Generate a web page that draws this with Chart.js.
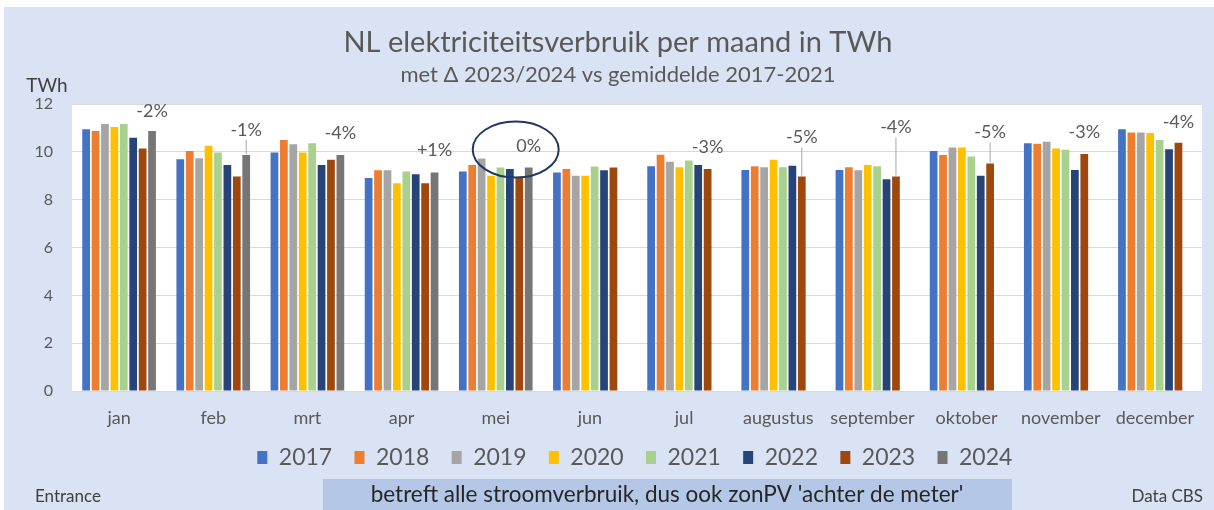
<!DOCTYPE html>
<html>
<head>
<meta charset="utf-8">
<script src="https://cdn.jsdelivr.net/npm/chart.js@4"></script>
<style>
  body { margin: 0; background: #fff; }
  #wrap { width: 1214px; height: 510px; }
</style>
</head>
<body>
<div id="wrap"><canvas id="chart" width="1214" height="510"></canvas></div>
<script>
// maanden en jaren
const months = ["jan", "feb", "mrt", "apr", "mei", "jun", "jul", "augustus", "september", "oktober", "november", "december"];
const years  = ["2017", "2018", "2019", "2020", "2021", "2022", "2023", "2024"];

const v2017 = [10.95, 9.70, 9.98, 8.91, 9.18, 9.14, 9.40, 9.25, 9.25, 10.04, 10.37, 10.95];
const v2018 = [10.88, 10.04, 10.50, 9.24, 9.46, 9.29, 9.88, 9.40, 9.36, 9.87, 10.34, 10.82];
const v2019 = [11.17, 9.74, 10.32, 9.24, 9.73, 9.01, 9.59, 9.36, 9.24, 10.19, 10.43, 10.82];
const v2020 = [11.05, 10.26, 9.98, 8.69, 9.01, 9.01, 9.36, 9.68, 9.46, 10.19, 10.15, 10.80];
const v2021 = [11.17, 9.98, 10.37, 9.18, 9.35, 9.39, 9.64, 9.36, 9.40, 9.81, 10.09, 10.50];
const v2022 = [10.60, 9.46, 9.46, 9.07, 9.29, 9.24, 9.46, 9.42, 8.86, 9.01, 9.25, 10.11];
const v2023 = [10.15, 8.97, 9.68, 8.69, 8.95, 9.35, 9.29, 8.97, 8.97, 9.52, 9.92, 10.39];
const v2024 = [10.88, 9.87, 9.87, 9.14, 9.35, null, null, null, null, null, null, null];

// delta 2023/2024 t.o.v. gemiddelde 2017-2021
const deltas = ["-2%", "-1%", "-4%", "+1%", "0%", "", "-3%", "-5%", "-4%", "-5%", "-3%", "-4%"];
const lifts  = [20, 25, 22, 22, 21, 0, 22, 39, 49, 31, 22, 20];

const colors = ["#4472c4", "#ed7d31", "#a5a5a5", "#ffc000", "#a9d18e", "#264478", "#9e480e", "#767676"];
const series = [v2017, v2018, v2019, v2020, v2021, v2022, v2023, v2024];

const FONT = "Lato, 'Liberation Sans', sans-serif";
Chart.defaults.font.family = FONT;
Chart.defaults.color = "#595959";

const decor = {
    id: "decor",
    afterLayout(chart) {
        // legenda iets naar rechts, zoals in het origineel
        chart.legend.left += 19;
        chart.legend.right += 19;
    },
    beforeDraw(chart) {
        const ctx = chart.ctx, a = chart.chartArea;
        ctx.save();
        ctx.fillStyle = "#ffffff";
        ctx.fillRect(0, 0, chart.width, chart.height);
        ctx.fillStyle = "#dae3f3";
        ctx.fillRect(4, 7, chart.width - 4, chart.height - 7);
        ctx.fillStyle = "#ffffff";
        ctx.fillRect(a.left, a.top, a.right - a.left, a.bottom - a.top);
        ctx.restore();
    },
    afterDatasetsDraw(chart) {
        const ctx = chart.ctx;
        ctx.save();
        ctx.font = "18px " + FONT;
        ctx.textAlign = "center";
        ctx.textBaseline = "middle";
        deltas.forEach((txt, i) => {
            if (!txt) return;
            let ds = v2024[i] != null ? 7 : 6;
            let bar = chart.getDatasetMeta(ds).data[i];
            let x = bar.x, y = bar.y - lifts[i];
            if (lifts[i] > 24) {
                ctx.strokeStyle = "#a6a6a6";
                ctx.lineWidth = 1;
                ctx.beginPath();
                ctx.moveTo(x, y + 10);
                ctx.lineTo(bar.x, bar.y - 1);
                ctx.stroke();
            }
            ctx.fillStyle = "#595959";
            ctx.fillText(txt, x, y);
            if (txt == "0%") {
                ctx.strokeStyle = "#203864";
                ctx.lineWidth = 2;
                ctx.beginPath();
                ctx.ellipse(x - 13, y + 3, 43, 28, 0, 0, Math.PI * 2);
                ctx.stroke();
            }
        });
        ctx.restore();
    },
    afterDraw(chart) {
        const ctx = chart.ctx;
        ctx.save();
        ctx.fillStyle = "#404040";
        ctx.font = "19px " + FONT;
        ctx.textAlign = "center";
        ctx.textBaseline = "middle";
        ctx.fillText("TWh", 47, 86);

        ctx.fillStyle = "#b4c7e7";
        ctx.fillRect(323, 479, 689, 31);
        ctx.fillStyle = "#262626";
        ctx.font = "22.5px " + FONT;
        ctx.fillText("betreft alle stroomverbruik, dus ook zonPV 'achter de meter'", 667, 495);

        ctx.fillStyle = "#404040";
        ctx.font = "17px " + FONT;
        ctx.textAlign = "left";
        ctx.fillText("Entrance", 35, 497);
        ctx.textAlign = "right";
        ctx.fillText("Data CBS", 1203, 497);
        ctx.restore();
    }
};

new Chart(document.getElementById("chart"), {
    type: "bar",
    data: {
        labels: months,
        datasets: years.map((y, k) => ({
            label: y,
            data: series[k],
            backgroundColor: colors[k],
            borderWidth: 0,
            categoryPercentage: 0.8,
            barPercentage: 0.82
        }))
    },
    options: {
        responsive: false,
        devicePixelRatio: 1,
        animation: false,
        layout: { padding: { left: 34, right: 12, top: 0, bottom: 31 } },
        plugins: {
            title: {
                display: true,
                text: "NL elektriciteitsverbruik per maand in TWh",
                color: "#595959",
                font: { size: 29, weight: "normal" },
                padding: { top: 25, bottom: 0 }
            },
            subtitle: {
                display: true,
                text: "met \u0394 2023/2024 vs gemiddelde 2017-2021",
                color: "#595959",
                font: { size: 22 },
                padding: { top: 2, bottom: 16 }
            },
            legend: {
                position: "bottom",
                labels: {
                    color: "#595959",
                    font: { size: 23 },
                    boxWidth: 10,
                    boxHeight: 13,
                    padding: 18,
                    generateLabels(chart) {
                        return Chart.defaults.plugins.legend.labels.generateLabels(chart)
                            .map(l => Object.assign(l, { text: l.text + "\u2009\u200a" }));
                    }
                }
            },
            tooltip: { enabled: false }
        },
        scales: {
            x: {
                grid: { display: false },
                border: { display: false },
                ticks: { color: "#595959", font: { size: 18 }, padding: 8 },
                afterFit(s) { s.height = 37; }
            },
            y: {
                min: 0, max: 12,
                ticks: { stepSize: 2, color: "#595959", font: { size: 16 }, padding: 19 },
                grid: { color: "#d9d9d9", drawTicks: false },
                border: { display: false },
                afterFit(s) { s.width = 38; }
            }
        }
    },
    plugins: [decor]
});
</script>
</body>
</html>
